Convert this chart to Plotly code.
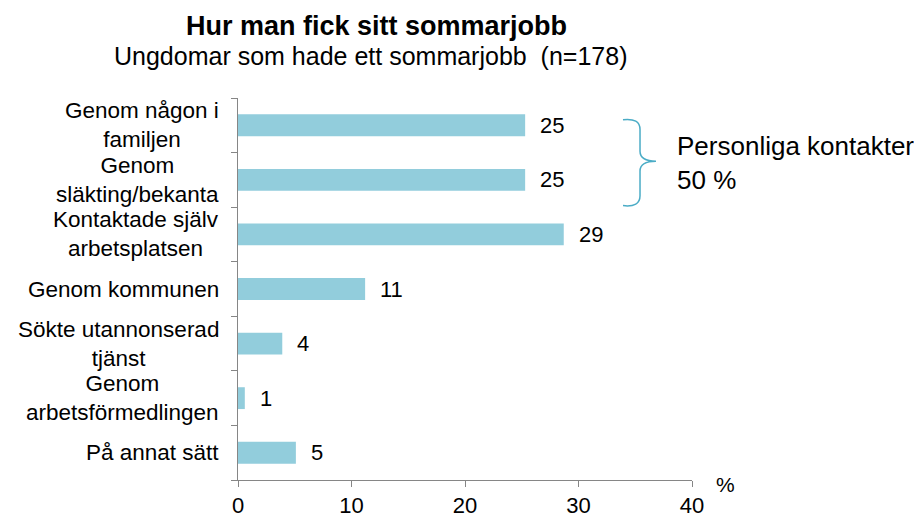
import plotly.graph_objects as go

categories = ["Genom någon i<br>familjen", "Genom<br>släkting/bekanta", "Kontaktade själv<br>arbetsplatsen",
              "Genom kommunen", "Sökte utannonserad<br>tjänst", "Genom<br>arbetsförmedlingen", "På annat sätt"]
values = [25.3, 25.3, 28.7, 11.2, 3.9, 0.6, 5.1]
value_labels = ["25", "25", "29", "11", "4", "1", "5"]
x_ticks = [0, 10, 20, 30, 40]

positions = list(range(len(categories)))
bar_color = "#92CDDC"
axis_color = "#868686"
font_family = "Liberation Sans, Arial, sans-serif"

# plot area in page pixels: x 238..692, y 98..485
PL, PR, PT, PB = 238, 692, 98, 485


def pxx(xp):
    return (xp - PL) / (PR - PL)


def pxy(yp):
    return (PB - yp) / (PB - PT)


fig = go.Figure()
fig.add_trace(go.Bar(
    x=values, y=positions, orientation="h", width=0.4,
    marker=dict(color=bar_color, line=dict(width=0)),
    hoverinfo="skip",
))

annotations = []
for p, v, lab in zip(positions, values, value_labels):
    annotations.append(dict(x=v, y=p, xref="x", yref="y", text=lab, showarrow=False,
                            xanchor="left", xshift=13, font=dict(size=22, color="#000")))
for p, cat in zip(positions, categories):
    annotations.append(dict(x=0, y=p, xref="paper", yref="y", text=cat, showarrow=False,
                            xanchor="right", align="center", xshift=-17,
                            font=dict(size=22.5, color="#000")))

annotations += [
    dict(x=pxx(376), y=pxy(25), xref="paper", yref="paper",
         text="<b>Hur man fick sitt sommarjobb</b>", showarrow=False,
         xanchor="center", yanchor="middle", borderpad=0,
         font=dict(size=27, color="#000")),
    dict(x=pxx(370), y=pxy(55), xref="paper", yref="paper",
         text="Ungdomar som hade ett sommarjobb  (n=178)", showarrow=False,
         xanchor="center", yanchor="middle", borderpad=0,
         font=dict(size=25, color="#000")),
    dict(x=pxx(675), y=pxy(164), xref="paper", yref="paper",
         text="Personliga kontakter<br>50 %", showarrow=False, xanchor="left", yanchor="middle",
         align="left", font=dict(size=26, color="#000")),
    dict(x=pxx(714), y=pxy(490), xref="paper", yref="paper",
         text="%", showarrow=False, xanchor="left", yanchor="middle",
         font=dict(size=21, color="#000")),
]


def pt(xp, yp):
    return f"{pxx(xp):.4f},{pxy(yp):.4f}"


brace = (f"M {pt(623,120)} Q {pt(640,118)} {pt(640,130)} L {pt(640,152)} "
         f"Q {pt(640,162)} {pt(656,162)} Q {pt(640,162)} {pt(640,172)} "
         f"L {pt(640,197)} Q {pt(640,209)} {pt(623,207)}")

W, H, OFF = 922, 522, 8
fig.update_layout(
    width=W, height=H,
    margin=dict(l=PL - OFF, r=W + OFF - PR, t=PT - OFF, b=H + OFF - PB),
    paper_bgcolor="white", plot_bgcolor="white",
    font=dict(family=font_family, color="#000"),
    showlegend=False,
    annotations=annotations,
    shapes=[dict(type="path", path=brace, xref="paper", yref="paper",
                 line=dict(color="#4BACC6", width=1.5))],
    xaxis=dict(range=[0, 40], tickvals=x_ticks, ticks="outside", ticklen=6,
               tickcolor=axis_color, showline=True, linecolor=axis_color, linewidth=1,
               showgrid=False, zeroline=False, tickfont=dict(size=22, color="#000")),
    yaxis=dict(range=[6.5, -0.5], tickvals=[i - 0.5 for i in range(len(categories) + 1)],
               ticktext=[""] * (len(categories) + 1), ticks="outside", ticklen=6,
               tickcolor=axis_color, showline=True, linecolor=axis_color, linewidth=1,
               showgrid=False, zeroline=False),
)

fig.write_html("out.html")
